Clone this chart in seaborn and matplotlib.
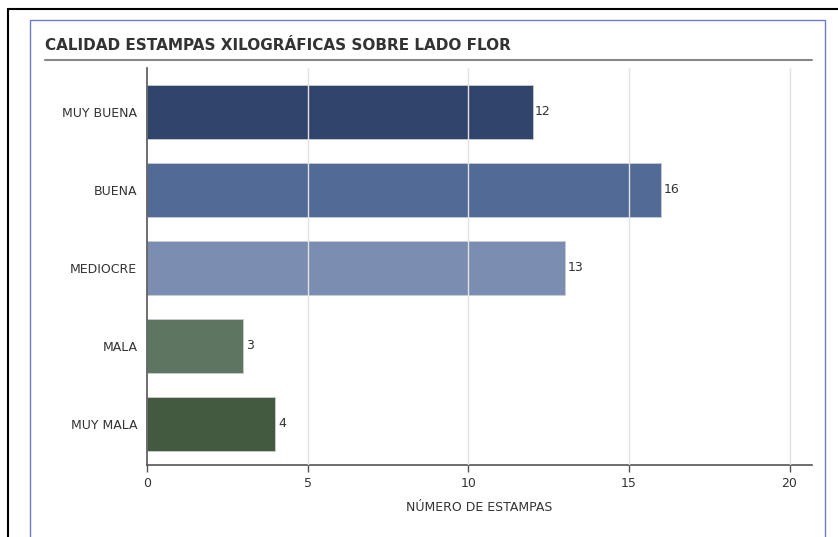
import matplotlib
matplotlib.use("Agg")
import matplotlib.pyplot as plt
import seaborn as sns
import pandas as pd
from matplotlib.patches import Rectangle
from matplotlib.lines import Line2D

# data
categories = ["MUY BUENA", "BUENA", "MEDIOCRE", "MALA", "MUY MALA"]
values = [12, 16, 13, 3, 4]
colors = ["#31446B", "#516A96", "#7B8DB0", "#5E7562", "#435A41"]
xticks = [0, 5, 10, 15, 20]

title = "CALIDAD ESTAMPAS XILOGRÁFICAS SOBRE LADO FLOR"
xlabel = "NÚMERO DE ESTAMPAS"

df = pd.DataFrame({"calidad": categories, "n": values})

sns.set_style("white")
plt.rcParams["font.family"] = ["DejaVu Sans"]

fig = plt.figure(figsize=(8.38, 5.37), dpi=100)
ax = fig.add_axes([0.1754, 0.1341, 0.7936, 0.7393])

sns.barplot(data=df, y="calidad", x="n", hue="calidad", palette=colors,
            order=categories, orient="h", width=0.69, legend=False, saturation=1,
            edgecolor="#c9cdd6", linewidth=0.6, ax=ax, zorder=2)

# vertical grid lines drawn over the bars
for t in xticks[1:]:
    ax.axvline(t, color="#e2e2e2", lw=1, zorder=3)

for i, v in enumerate(values):
    ax.text(v + 0.08, i, str(v), va="center", ha="left", fontsize=9, color="#333333", zorder=4)

ax.set_xlim(0, 20.7)
ax.set_ylim(4.526, -0.564)
ax.set_xticks(xticks)
ax.set_xlabel(xlabel, fontsize=9, color="#333333", labelpad=8)
ax.set_ylabel("")
ax.tick_params(axis="x", length=5, width=1, color="#555555", labelsize=9, labelcolor="#333333", direction="out", bottom=True)
ax.tick_params(axis="y", length=0, labelsize=9, labelcolor="#333333", pad=7)

for s in ["top", "right"]:
    ax.spines[s].set_visible(False)
for s in ["left", "bottom"]:
    ax.spines[s].set_color("#555555")
    ax.spines[s].set_linewidth(1.2)

W, H = 838, 537
# outer black frame and inner blue frame
fig.add_artist(Line2D([8 / W, 8 / W], [0, 1 - 9 / H], color="black", lw=1.5, transform=fig.transFigure))
fig.add_artist(Line2D([8 / W, 1], [1 - 9 / H, 1 - 9 / H], color="black", lw=1.5, transform=fig.transFigure))
fig.add_artist(Rectangle((30 / W, -0.01), (825 - 30) / W, 1 - 20 / H + 0.01, fill=False,
                         edgecolor="#6b7fc4", lw=1, transform=fig.transFigure))

fig.text(45 / W, 1 - 46 / H, title, fontsize=11, fontweight="bold", color="#333333",
         ha="left", va="center")
fig.add_artist(Line2D([45 / W, 812 / W], [1 - 60 / H, 1 - 60 / H], color="#888888", lw=1.5,
                      transform=fig.transFigure))

fig.savefig("out.png", dpi=100)
